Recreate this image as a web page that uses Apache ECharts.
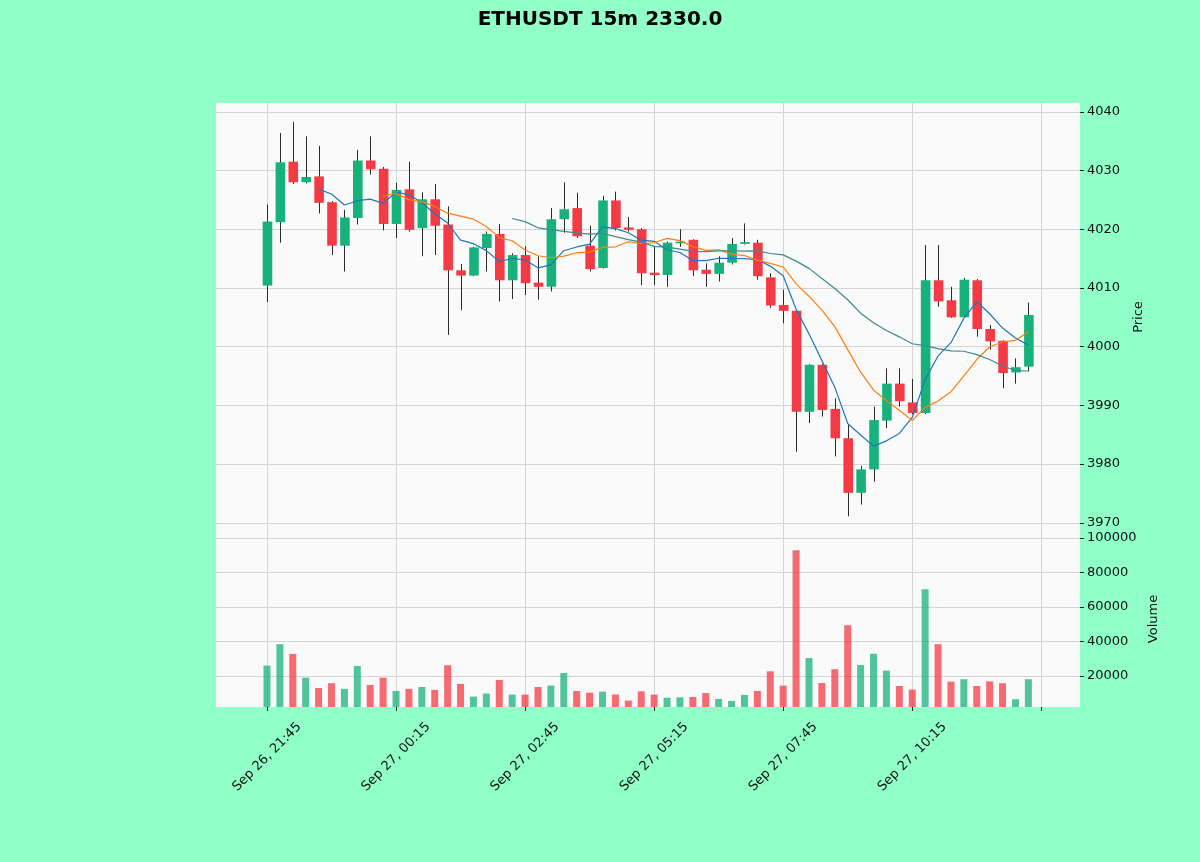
<!DOCTYPE html>
<html><head><meta charset="utf-8">
<script src="https://cdn.jsdelivr.net/npm/echarts@6/dist/echarts.min.js"></script>
<style>html,body{margin:0;padding:0;background:#90ffc8;} #c{width:1200px;height:862px;}</style>
</head><body><div id="c"></div>
<script>
const opens  = [4010.4,4021.2,4031.5,4028.0,4029.0,4024.6,4017.2,4021.9,4031.7,4030.3,
                4020.9,4026.8,4020.2,4025.1,4020.8,4013.0,4012.1,4016.8,4019.2,4011.3,
                4015.6,4010.9,4010.2,4021.7,4023.6,4017.2,4013.4,4024.9,4020.3,4020.0,
                4012.6,4012.2,4017.6,4018.2,4013.1,4012.4,4014.3,4017.5,4017.7,4011.8,
                4007.1,4006.1,3988.9,3996.9,3989.4,3984.4,3975.1,3979.1,3987.4,3993.7,
                3990.5,3988.7,4011.3,4007.9,4005.0,4011.3,4003.0,4001.0,3995.6,3996.6];
const closes = [4021.3,4031.4,4028.0,4028.9,4024.5,4017.2,4022.0,4031.7,4030.2,4020.9,
                4026.7,4019.9,4025.1,4020.6,4013.0,4012.1,4016.9,4019.2,4011.3,4015.6,
                4010.8,4010.2,4021.7,4023.4,4018.8,4013.2,4024.9,4020.2,4019.9,4012.5,
                4012.2,4017.7,4017.9,4013.0,4012.4,4014.3,4017.5,4017.8,4012.0,4007.0,
                4006.1,3988.9,3996.9,3989.2,3984.4,3975.1,3979.1,3987.5,3993.7,3990.7,
                3988.7,4011.3,4007.7,4005.0,4011.4,4003.0,4000.9,3995.5,3996.5,4005.4];
const lows   = [4007.6,4017.7,4027.7,4027.8,4022.7,4015.6,4012.8,4020.8,4029.3,4019.8,
                4018.5,4019.6,4015.4,4015.6,4002.0,4006.2,4012.0,4012.8,4007.7,4008.1,
                4008.8,4008.0,4009.4,4019.4,4018.5,4012.8,4013.3,4019.8,4019.6,4010.5,
                4010.5,4010.2,4017.0,4012.0,4010.2,4011.1,4014.0,4017.4,4011.4,4006.6,
                4004.0,3982.1,3987.0,3988.1,3981.3,3971.1,3973.1,3977.0,3986.1,3989.8,
                3988.5,3988.5,4006.8,4004.9,4004.9,4001.7,3999.5,3992.9,3993.7,3995.8];
const highs  = [4024.2,4036.4,4038.3,4035.8,4034.2,4024.8,4023.3,4033.5,4035.8,4030.6,
                4027.9,4031.5,4026.3,4027.7,4023.9,4014.1,4017.0,4019.6,4020.9,4015.9,
                4017.1,4015.4,4023.6,4028.0,4026.2,4020.6,4025.7,4026.4,4022.1,4020.2,
                4017.1,4017.9,4020.0,4018.3,4014.2,4015.4,4018.5,4021.0,4018.2,4012.5,
                4009.7,4006.3,3997.0,3997.0,3991.2,3986.7,3979.7,3989.8,3996.3,3996.3,
                3994.5,4017.3,4017.3,4010.2,4011.7,4011.5,4003.7,4001.1,3998.0,4007.5];
const volumes = [26000,38400,32800,19000,13000,15800,12500,25800,14800,19000,
                 11300,12500,13600,11900,26200,15400,8000,9800,17700,9200,
                 9200,13600,14400,21700,11300,10300,10900,9200,5700,11100,
                 9200,7400,7600,7800,10100,6700,5500,9000,11300,22700,
                 14400,93000,30400,15900,23900,49400,26400,32900,23100,14200,
                 12100,70300,38400,16700,18100,14200,16900,15800,6500,18100];
const tickPositions = [0,10,20,30,40,50,60];
const tickLabels = ['Sep 26, 21:45','Sep 27, 00:15','Sep 27, 02:45','Sep 27, 05:15','Sep 27, 07:45','Sep 27, 10:15'];
const priceTicks = [3970,3980,3990,4000,4010,4020,4030,4040];
const volumeTicks = [20000,40000,60000,80000,100000];
const maWindows = [5,10,20];
const maColors = ['#1f77b4','#ff7f0e','#3f8a8c'];

const UP = '#17b27b', DOWN = '#f43a44';
const FONT = 'DejaVu Sans';

const candleData = opens.map((o,i)=>[i,o,closes[i],lows[i],highs[i]]);
const volData = volumes.map((v,i)=>({value:[i,v], itemStyle:{color: closes[i]>=opens[i]?UP:DOWN, opacity:0.75}}));
function movingAverage(n){
  const out=[];
  for(let i=n-1;i<closes.length;i++){
    let s=0; for(let k=i-n+1;k<=i;k++) s+=closes[k];
    out.push([i,s/n]);
  }
  return out;
}

const gridLine = {show:true, lineStyle:{color:'#d4d4d4', width:1}};
const chart = echarts.init(document.getElementById('c'), null, {renderer:'canvas'});
const xCommon = {type:'value', min:-3.95, max:63.0, axisLine:{show:false, onZero:false}, splitLine:gridLine};
chart.setOption({
  backgroundColor:'#90ffc8',
  animation:false,
  title:{text:'ETHUSDT 15m 2330.0', left:'center', top:5,
    textStyle:{fontFamily:FONT, fontSize:20, fontWeight:'bold', color:'#000'}},
  grid:[
    {left:216, width:864, top:103, height:428, show:true, backgroundColor:'#fafafa', borderWidth:0},
    {left:216, width:864, top:531, height:176, show:true, backgroundColor:'#fafafa', borderWidth:0}
  ],
  xAxis:[
    Object.assign({gridIndex:0, axisLabel:{show:false}, axisTick:{show:false, customValues:tickPositions}}, xCommon),
    Object.assign({gridIndex:1,
      axisTick:{show:true, length:4, inside:false, customValues:tickPositions, lineStyle:{color:'#222'}},
      axisLabel:{show:true, customValues:tickPositions.slice(0,6), rotate:45, align:'center', verticalAlign:'middle',
        margin:50, fontFamily:FONT, fontSize:13, color:'#111',
        formatter:v=>{const k=tickPositions.indexOf(Math.round(v)); return k>=0&&k<tickLabels.length?tickLabels[k]:'';}}}, xCommon)
  ],
  yAxis:[
    {gridIndex:0, type:'value', position:'right', min:3968.6, max:4041.5, scale:true,
      axisLine:{show:false, onZero:false}, splitLine:gridLine,
      axisTick:{show:true, length:4, customValues:priceTicks, lineStyle:{color:'#222'}},
      axisLabel:{customValues:priceTicks, margin:7, fontFamily:FONT, fontSize:13, color:'#111', formatter:v=>String(v)},
      name:'Price', nameLocation:'middle', nameRotate:90, nameGap:52,
      nameTextStyle:{fontFamily:FONT, fontSize:13, color:'#111'}},
    {gridIndex:1, type:'value', position:'right', min:2000, max:104100,
      axisLine:{show:false, onZero:false}, splitLine:gridLine,
      axisTick:{show:true, length:4, customValues:volumeTicks, lineStyle:{color:'#222'}},
      axisLabel:{customValues:volumeTicks, margin:7, fontFamily:FONT, fontSize:13, color:'#111', formatter:v=>String(v)},
      name:'Volume', nameLocation:'middle', nameRotate:90, nameGap:67,
      nameTextStyle:{fontFamily:FONT, fontSize:13, color:'#111'}}
  ],
  series:[
    {type:'custom', xAxisIndex:0, yAxisIndex:0, data:candleData, encode:{x:0, y:[1,2,3,4]}, z:3,
      renderItem:(params, api)=>{
        const x=api.value(0), o=api.value(1), c=api.value(2), lo=api.value(3), hi=api.value(4);
        const pL=api.coord([x,lo]), pH=api.coord([x,hi]), pO=api.coord([x,o]), pC=api.coord([x,c]);
        const w=9.6;
        const top=Math.min(pO[1],pC[1]), h=Math.max(Math.abs(pO[1]-pC[1]),1);
        return {type:'group', children:[
          {type:'line', shape:{x1:Math.round(pL[0])+0.5,y1:pL[1],x2:Math.round(pH[0])+0.5,y2:pH[1]}, style:{stroke:'#2a2a2a', lineWidth:1}},
          {type:'rect', shape:{x:pO[0]-w/2+0.5, y:top, width:w, height:h}, style:{fill:c>=o?UP:DOWN}}
        ]};
      }},
    ...maWindows.map((n,j)=>({type:'line', xAxisIndex:0, yAxisIndex:0, data:movingAverage(n), showSymbol:false, symbol:'none', z:4,
      lineStyle:{color:maColors[j], width:1.2}})),
    {type:'bar', xAxisIndex:1, yAxisIndex:1, data:volData, barWidth:7, z:3}
  ]
});
</script></body></html>
